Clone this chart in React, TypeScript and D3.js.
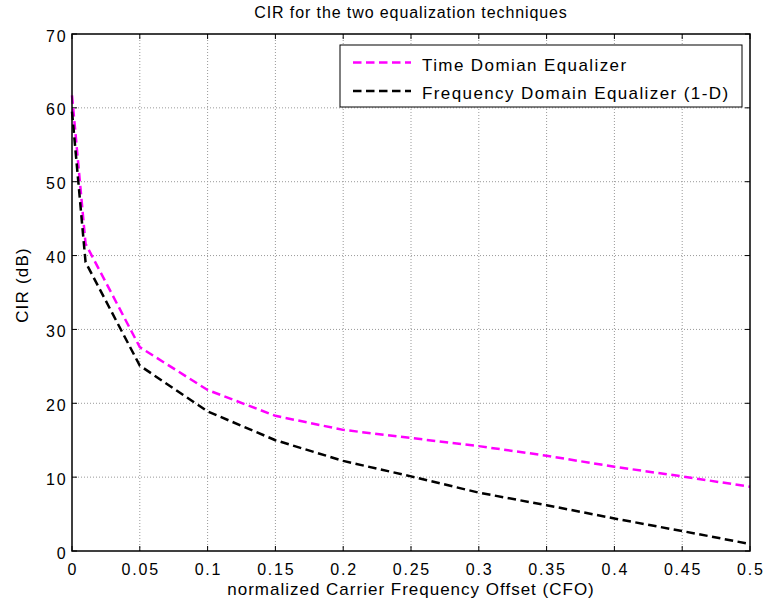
import React from 'react';
import * as d3 from 'd3';

const CFO = [0, 0.01, 0.05, 0.1, 0.15, 0.2, 0.25, 0.3, 0.35, 0.4, 0.45, 0.5];
const TIME_EQ = [61.7, 41.6, 27.6, 21.8, 18.3, 16.4, 15.3, 14.2, 12.9, 11.4, 10.1, 8.7];
const FREQ_EQ = [59.5, 39.1, 25.1, 18.9, 15.0, 12.2, 10.1, 7.9, 6.2, 4.4, 2.7, 0.95];
const X_TICKS = [0, 0.05, 0.1, 0.15, 0.2, 0.25, 0.3, 0.35, 0.4, 0.45, 0.5];
const Y_TICKS = [0, 10, 20, 30, 40, 50, 60, 70];
const X_TICK_LABELS = ['0', '0.05', '0.1', '0.15', '0.2', '0.25', '0.3', '0.35', '0.4', '0.45', '0.5'];
const LEGEND = ['Time Domian Equalizer', 'Frequency Domain Equalizer (1-D)'];
const COLORS = ['#ff00ff', '#000000'];

const W = 766;
const H = 609;
const left = 72;
const right = 750;
const top = 34;
const bottom = 551;
const FONT = 'Arial, "Liberation Sans", Helvetica, sans-serif';

export default function App() {
  const x = d3.scaleLinear().domain([0, 0.5]).range([left, right]);
  const y = d3.scaleLinear().domain([0, 70]).range([bottom, top]);

  const line = d3.line<number>()
    .x((_, i) => x(CFO[i]))
    .y(d => y(d));

  const series = [TIME_EQ, FREQ_EQ];
  const tick = 5;

  return (
    <svg width={W} height={H} style={{ position: 'absolute', left: 0, top: 0, background: '#fff' }}
      fontFamily={FONT}>
      <rect x={0} y={0} width={W} height={H} fill="#fff" />
      <rect x={left} y={top} width={right - left} height={bottom - top} fill="#fff" />

      {/* grid */}
      {X_TICKS.slice(1, -1).map(t => (
        <line key={'gx' + t} x1={x(t)} x2={x(t)} y1={top} y2={bottom}
          stroke="#999" strokeWidth={1} strokeDasharray="1,2" />
      ))}
      {Y_TICKS.slice(1, -1).map(t => (
        <line key={'gy' + t} x1={left} x2={right} y1={y(t)} y2={y(t)}
          stroke="#999" strokeWidth={1} strokeDasharray="1,2" />
      ))}

      {/* ticks, inward on all sides */}
      {X_TICKS.map(t => (
        <g key={'tx' + t} stroke="#000" strokeWidth={1}>
          <line x1={x(t)} x2={x(t)} y1={bottom} y2={bottom - tick} />
          <line x1={x(t)} x2={x(t)} y1={top} y2={top + tick} />
        </g>
      ))}
      {Y_TICKS.map(t => (
        <g key={'ty' + t} stroke="#000" strokeWidth={1}>
          <line x1={left} x2={left + tick} y1={y(t)} y2={y(t)} />
          <line x1={right} x2={right - tick} y1={y(t)} y2={y(t)} />
        </g>
      ))}

      {/* data */}
      {series.map((s, i) => (
        <path key={'s' + i} d={line(s) || ''} fill="none" stroke={COLORS[i]}
          strokeWidth={2.5} strokeDasharray="8.5,4.5" />
      ))}

      {/* box */}
      <rect x={left} y={top} width={right - left} height={bottom - top}
        fill="none" stroke="#000" strokeWidth={1.5} />

      {/* tick labels */}
      {X_TICKS.map((t, i) => (
        <text key={'lx' + t} x={x(t) + 0.9} y={575} textAnchor="middle" fontSize={16}
          letterSpacing={1.8}>{X_TICK_LABELS[i]}</text>
      ))}
      {Y_TICKS.map(t => (
        <text key={'ly' + t} x={67.5} y={y(t) + 7.5} textAnchor="end" fontSize={16}
          letterSpacing={1.8}>{t}</text>
      ))}

      {/* labels */}
      <text x={(left + right) / 2} y={18} textAnchor="middle" fontSize={16} letterSpacing={0.9}>
        CIR for the two equalization techniques
      </text>
      <text x={(left + right) / 2} y={595} textAnchor="middle" fontSize={17} letterSpacing={1}>
        normalized Carrier Frequency Offset (CFO)
      </text>
      <text transform={`translate(28, 285) rotate(-90)`} textAnchor="middle"
        fontSize={17} letterSpacing={1.2}>CIR (dB)</text>

      {/* legend */}
      <rect x={340} y={45} width={402} height={62} fill="#fff" stroke="#000" strokeWidth={1} />
      {LEGEND.map((l, i) => {
        const ly = i === 0 ? 62.5 : 91;
        return (
          <g key={'lg' + i}>
            <line x1={353} x2={411} y1={ly} y2={ly} stroke={COLORS[i]}
              strokeWidth={2.5} strokeDasharray="8.5,4.5" />
            <text x={422} y={ly + 8} fontSize={17} letterSpacing={1.4}>{l}</text>
          </g>
        );
      })}
    </svg>
  );
}
